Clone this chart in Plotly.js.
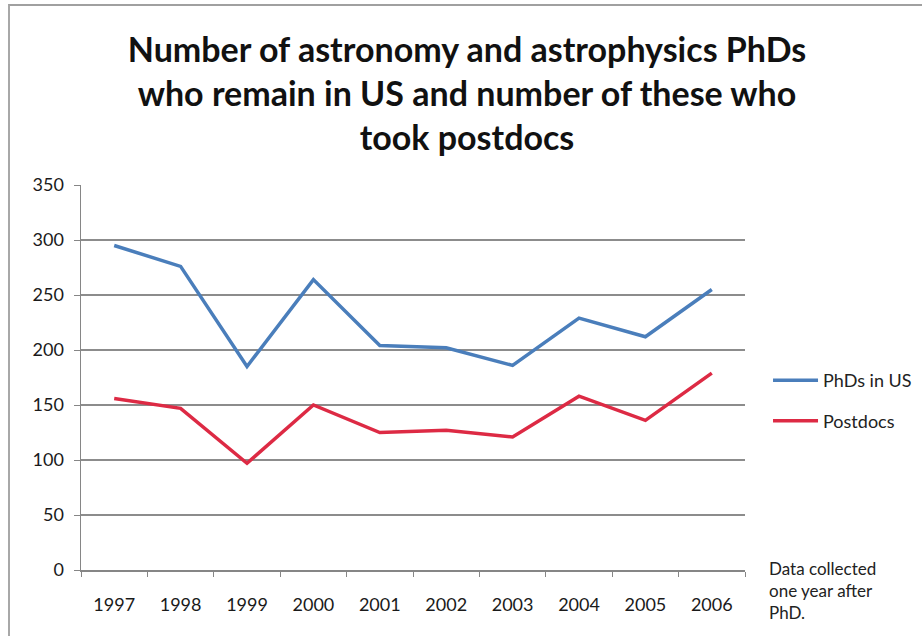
<!DOCTYPE html>
<html>
<head>
<meta charset="utf-8">
<script src="https://cdn.plot.ly/plotly-3.0.1.min.js"></script>
<style>
  html, body { margin: 0; padding: 0; background: #fff; }
  #wrap { position: relative; width: 922px; height: 636px; overflow: hidden; }
  #chart { width: 922px; height: 636px; }
  #frame { position: absolute; left: 8px; top: 4px; right: -4px; bottom: -4px;
           border-left: 2px solid #a8a8a8; border-top: 2px solid #a0a0a0; pointer-events: none; }
</style>
</head>
<body>
<div id="wrap">
  <div id="chart"></div>
  <div id="frame"></div>
</div>
<script>
const years = ['1997','1998','1999','2000','2001','2002','2003','2004','2005','2006'];
const phdsInUS = [295, 276, 185, 264, 204, 202, 186, 229, 212, 255];
const postdocs = [156, 147, 97, 150, 125, 127, 121, 158, 136, 179];
const seriesNames = ['PhDs in US', 'Postdocs'];
const titleText = 'Number of astronomy and astrophysics PhDs<br>who remain in US and number of these who<br>took postdocs';
const noteText = 'Data collected<br>one year after<br>PhD.';

const font = 'Lato, "Open Sans", sans-serif';

const traces = [
  { x: years, y: phdsInUS, name: seriesNames[0], legendgroup: 'a', type: 'scatter', mode: 'lines',
    line: { color: '#4a7ebb', width: 3.5 } },
  { x: years, y: postdocs, name: seriesNames[1], legendgroup: 'b', type: 'scatter', mode: 'lines',
    line: { color: '#dd2a44', width: 3.5 } }
];

const layout = {
  width: 922, height: 636,
  margin: { l: 81, r: 177, t: 185, b: 66, autoexpand: false },
  paper_bgcolor: '#ffffff', plot_bgcolor: '#ffffff',
  font: { family: font, color: '#222', size: 18 },
  title: { text: titleText, x: 0.5065, xanchor: 'center', xref: 'container',
           y: 0.903, yanchor: 'middle', yref: 'container',
           font: { family: font, size: 34, color: '#111', weight: 'bold' } },
  showlegend: true,
  legend: { x: 0.833, xref: 'container', xanchor: 'left', y: 0.44, yanchor: 'middle',
            font: { family: font, size: 18, color: '#222' }, itemwidth: 45,
            tracegroupgap: 14, bgcolor: 'rgba(0,0,0,0)' },
  xaxis: { type: 'category', range: [-0.5, 9.5], showgrid: false, zeroline: false,
           showline: true, linecolor: '#868686', linewidth: 1.5,
           ticks: 'outside', ticklen: 5, tickcolor: '#868686', tickson: 'boundaries',
           ticklabelstandoff: 18,
           tickfont: { family: font, size: 18, color: '#1a1a1a' }, fixedrange: true },
  yaxis: { range: [0, 350], dtick: 50, showgrid: true, gridcolor: '#8c8c8c', gridwidth: 1.2,
           zeroline: false, showline: true, linecolor: '#868686', linewidth: 1.5,
           ticks: 'outside', ticklen: 6, tickcolor: '#868686', ticklabelstandoff: 6,
           tickfont: { family: font, size: 18, color: '#1a1a1a' }, fixedrange: true },
  annotations: [
    { text: noteText, xref: 'paper', yref: 'paper', x: 1.033, y: -0.052,
      xanchor: 'left', yanchor: 'middle', align: 'left', showarrow: false,
      font: { family: font, size: 17, color: '#222' } }
  ]
};

Plotly.newPlot('chart', traces, layout, { displayModeBar: false, staticPlot: true });
</script>
</body>
</html>
